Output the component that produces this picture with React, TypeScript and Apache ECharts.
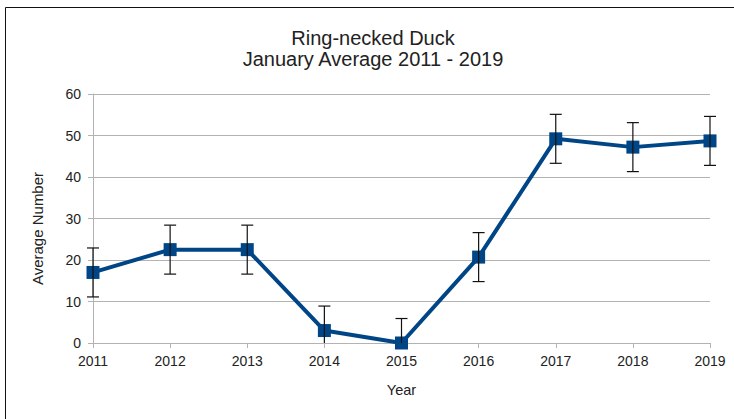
import React, { useEffect, useRef } from "react";
import * as echarts from "echarts";

const years = ["2011", "2012", "2013", "2014", "2015", "2016", "2017", "2018", "2019"];
const averages = [17, 22.5, 22.5, 3, 0, 20.7, 49.2, 47.2, 48.7];
const errors = [5.9, 5.9, 5.9, 5.9, 5.9, 5.9, 5.9, 5.9, 5.9];

const FONT = "'Liberation Sans', Arial, sans-serif";

export default function App() {
  const ref = useRef<HTMLDivElement>(null);

  useEffect(() => {
    if (!ref.current) return;
    const chart = echarts.init(ref.current, null, { renderer: "svg" });

    const errorData = years.map((_, i) => [i, averages[i] - errors[i], averages[i] + errors[i]]);

    chart.setOption({
      animation: false,
      backgroundColor: "#ffffff",
      textStyle: { fontFamily: FONT },
      title: {
        text: "Ring-necked Duck\nJanuary Average 2011 - 2019",
        left: 368,
        textAlign: "center",
        top: 22,
        textStyle: {
          fontFamily: FONT,
          fontSize: 20,
          fontWeight: "normal",
          color: "#222",
          lineHeight: 21,
        },
      },
      graphic: [
        {
          type: "rect",
          shape: { x: 5.5, y: 7.5, width: 760, height: 440 },
          style: { fill: "none", stroke: "#111", lineWidth: 1 },
          silent: true,
        },
      ],
      grid: { left: 93, right: 24, top: 94, bottom: 76 },
      xAxis: {
        type: "category",
        data: years,
        boundaryGap: false,
        name: "Year",
        nameLocation: "middle",
        nameGap: 39,
        nameTextStyle: { fontFamily: FONT, fontSize: 14.5, color: "#222" },
        axisLine: { lineStyle: { color: "#b3b3b3" } },
        axisTick: { show: true, length: 5, lineStyle: { color: "#b3b3b3" } },
        axisLabel: { fontFamily: FONT, fontSize: 14, color: "#222", margin: 11 },
        splitLine: { show: false },
      },
      yAxis: {
        type: "value",
        min: 0,
        max: 60,
        interval: 10,
        name: "Average Number",
        nameLocation: "middle",
        nameGap: 48,
        nameTextStyle: {
          fontFamily: FONT,
          fontSize: 15,
          color: "#222",
          padding: [0, 20, 0, 0],
        },
        axisLine: { show: true, lineStyle: { color: "#b3b3b3" } },
        axisTick: { show: true, length: 5, lineStyle: { color: "#b3b3b3" } },
        axisLabel: { fontFamily: FONT, fontSize: 14, color: "#222", margin: 12 },
        splitLine: { show: true, lineStyle: { color: "#b3b3b3", width: 1 } },
      },
      series: [
        {
          type: "line",
          data: averages,
          symbol: "rect",
          symbolSize: 13,
          lineStyle: { color: "#004586", width: 4 },
          itemStyle: { color: "#004586" },
          z: 2,
        },
        {
          type: "custom",
          data: errorData,
          clip: false,
          z: 3,
          renderItem: (params: any, api: any) => {
            const x = api.value(0);
            const low = api.value(1);
            const clamped = low < 0;
            const lo = api.coord([x, clamped ? 0 : low]);
            const hi = api.coord([x, api.value(2)]);
            const half = 6;
            const style = { stroke: "#111", lineWidth: 1.2, fill: "none" };
            const children: any[] = [
              { type: "line", shape: { x1: lo[0], y1: lo[1], x2: hi[0], y2: hi[1] }, style },
              { type: "line", shape: { x1: hi[0] - half, y1: hi[1], x2: hi[0] + half, y2: hi[1] }, style },
            ];
            if (!clamped) {
              children.push({
                type: "line",
                shape: { x1: lo[0] - half, y1: lo[1], x2: lo[0] + half, y2: lo[1] },
                style,
              });
            }
            return { type: "group", children };
          },
        },
      ],
    });

    return () => chart.dispose();
  }, []);

  return (
    <div
      ref={ref}
      style={{ position: "fixed", left: 0, top: 0, width: 734, height: 419 }}
    />
  );
}
